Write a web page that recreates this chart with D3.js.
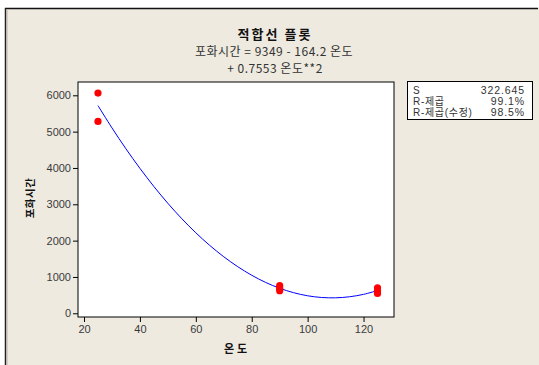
<!DOCTYPE html>
<html><head><meta charset="utf-8">
<script src="https://cdn.jsdelivr.net/npm/d3@7"></script>
<style>
html,body{margin:0;padding:0;background:#fff;}
svg{display:block;}
text{font-family:"Noto Sans CJK KR","DejaVu Sans",sans-serif;}
</style></head>
<body>
<script>
// Data
const temps = [25, 25, 90, 90, 90, 125, 125, 125];
const satTimes = [6060, 5280, 760, 690, 620, 700, 620, 545];
const fitX = [25,30,35,40,45,50,55,60,65,70,75,80,85,90,95,100,105,110,115,120,125];
const fitY = [5716,5103,4527,3990,3490,3027,2603,2216,1867,1556,1283,1047,849,689,567,482,435,426,455,521,626];
const xTicks = [20,40,60,80,100,120];
const yTicks = [0,1000,2000,3000,4000,5000,6000];
const statLabels = ["S", "R-제곱", "R-제곱(수정)"];
const statValues = ["322.645", "99.1%", "98.5%"];
const titleText = "적합선 플롯";
const eqLine1 = "포화시간 = 9349 - 164.2 온도";
const eqLine2 = "+ 0.7553 온도**2";
const xLabel = "온도";
const yLabel = "포화시간";

(function(){
const W = 539, H = 365;
const svg = d3.select("body").append("svg").attr("width", W).attr("height", H);

// background
svg.append("rect").attr("x",0).attr("y",0).attr("width",W).attr("height",H).attr("fill","#fff");
svg.append("rect").attr("x",5).attr("y",8).attr("width",W-5).attr("height",H-8).attr("fill","#EEEAE0");
svg.append("line").attr("x1",5).attr("x2",538).attr("y1",8.5).attr("y2",8.5).attr("stroke","#111").attr("stroke-width",1.5);
svg.append("line").attr("x1",5.5).attr("x2",5.5).attr("y1",8).attr("y2",H).attr("stroke","#222").attr("stroke-width",1.5);
svg.append("line").attr("x1",7).attr("x2",7).attr("y1",9).attr("y2",H).attr("stroke","#b8b4aa").attr("stroke-width",1);

const pl = 78, pr = 394, pt = 82, pb = 317;
const x = d3.scaleLinear().domain([17.85, 130.9]).range([pl, pr]);
const y = d3.scaleLinear().domain([-102, 6366]).range([pb, pt]);

svg.append("rect").attr("x",pl).attr("y",pt).attr("width",pr-pl).attr("height",pb-pt)
  .attr("fill","#fff").attr("stroke","#000").attr("stroke-width",1);

// axes
const xAxis = svg.append("g").attr("transform",`translate(0,${pb})`)
  .call(d3.axisBottom(x).tickValues(xTicks).tickSize(5).tickPadding(3).tickFormat(d3.format("d")));
const yAxis = svg.append("g").attr("transform",`translate(${pl},0)`)
  .call(d3.axisLeft(y).tickValues(yTicks).tickSize(5).tickPadding(2).tickFormat(d3.format("d")));
[xAxis, yAxis].forEach(g => {
  g.select(".domain").remove();
  g.selectAll(".tick line").attr("stroke","#000");
  g.selectAll(".tick text").attr("fill","#3a3a3a").style("font-size","11px")
    .style("font-family","'Liberation Sans','DejaVu Sans',sans-serif");
});

// fit line
const line = d3.line().x((d,i)=>x(fitX[i])).y(d=>y(d)).curve(d3.curveCatmullRom);
svg.append("path").datum(fitY).attr("d", line).attr("fill","none").attr("stroke","#0000ff").attr("stroke-width",1);

// points
svg.append("g").selectAll("circle").data(satTimes).join("circle")
  .attr("cx",(d,i)=>x(temps[i])).attr("cy",d=>y(d)).attr("r",3.6).attr("fill","#ff0000");

// titles
const cx = 274;
svg.append("text").attr("x",cx+1).attr("y",39).attr("text-anchor","middle")
  .style("font-size","13px").style("font-weight","bold").style("letter-spacing","2px").attr("fill","#111").text(titleText);
svg.append("text").attr("x",cx).attr("y",56).attr("text-anchor","middle")
  .style("font-size","12px").style("letter-spacing","0.5px").attr("fill","#333").text(eqLine1);
svg.append("text").attr("x",cx+1).attr("y",73).attr("text-anchor","middle")
  .style("font-size","12px").style("letter-spacing","0.5px").attr("fill","#333").text(eqLine2);

// axis labels
svg.append("text").attr("x",237).attr("y",353).attr("text-anchor","middle")
  .style("font-size","11px").style("font-weight","bold").style("letter-spacing","3px").attr("fill","#111").text(xLabel);
svg.append("text").attr("transform","translate(34,198) rotate(-90)").attr("text-anchor","middle")
  .style("font-size","10.5px").style("font-weight","bold").style("letter-spacing","0.5px").attr("fill","#111").text(yLabel);

// stats box
svg.append("rect").attr("x",407.5).attr("y",81.5).attr("width",125).attr("height",38)
  .attr("fill","#fff").attr("stroke","#000").attr("stroke-width",1);
const rowY = [94, 105, 116];
statLabels.forEach((s,i)=>{
  svg.append("text").attr("x",413).attr("y",rowY[i])
    .style("font-family","'Liberation Sans','Noto Sans CJK KR',sans-serif")
    .style("font-size","10px").style("letter-spacing","0.7px").attr("fill","#333").text(s);
  svg.append("text").attr("x",525).attr("y",rowY[i]).attr("text-anchor","end")
    .style("font-size","10.5px").style("letter-spacing","0.9px")
    .style("font-family","'Liberation Sans','DejaVu Sans',sans-serif").attr("fill","#333").text(statValues[i]);
});
})();
</script>
</body></html>
